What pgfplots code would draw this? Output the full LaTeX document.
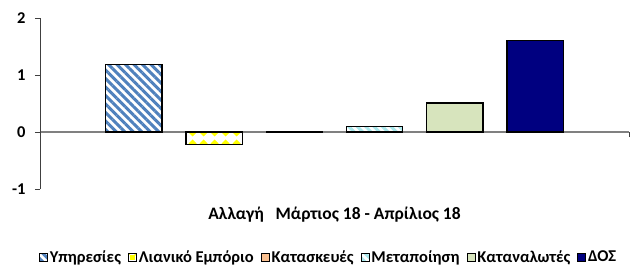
\documentclass[border=0pt]{standalone}
\usepackage{fontspec}
\setmainfont{Carlito}[BoldFont={Carlito Bold}]
\usepackage{pgfplots}
\pgfplotsset{compat=1.18}
\usetikzlibrary{patterns,patterns.meta}
\definecolor{stripeblue}{HTML}{4F81BD}
\definecolor{yel}{HTML}{FFFF00}
\definecolor{peach}{HTML}{FAC090}
\definecolor{lcyan}{HTML}{A8E8EC}
\definecolor{lgreen}{HTML}{D7E4BD}
\definecolor{navyb}{HTML}{000080}
\definecolor{axgrey}{HTML}{808080}
\pgfdeclarepatternformonly{diamonds}{\pgfpoint{-1pt}{-1pt}}{\pgfpoint{12pt}{12pt}}{\pgfpoint{11pt}{11pt}}{%
  \pgfpathmoveto{\pgfpoint{5.5pt}{1.5pt}}%
  \pgfpathlineto{\pgfpoint{9.5pt}{5.5pt}}%
  \pgfpathlineto{\pgfpoint{5.5pt}{9.5pt}}%
  \pgfpathlineto{\pgfpoint{1.5pt}{5.5pt}}%
  \pgfpathclose\pgfusepath{fill}}
\begin{document}
\begin{tikzpicture}
\begin{axis}[
  scale only axis, width=589pt, height=171pt,
  xmin=-0.17, xmax=7.17, ymin=-1, ymax=2,
  axis y line*=left, axis x line*=middle,
  ytick={-1,0,1,2},
  xtick={7.17}, xticklabels={},
  tick align=outside, major tick length=5pt,
  y axis line style={color=black!75, line width=0.7pt},
  x axis line style={color=axgrey, line width=1.2pt},
  y tick style={color=black!75, line width=0.7pt},
  x tick style={color=black!75, line width=0.7pt},
  yticklabel style={font=\fontsize{16.5}{18}\selectfont\bfseries, xshift=-6pt},
  /pgf/number format/assume math mode=true,
  ybar, bar width=0.70, bar shift=0pt,
  every axis plot/.append style={draw=black, line width=1.3pt},
  legend columns=6,
  legend style={draw=none, at={(axis description cs:0.49,-0.398)}, anchor=center,
    font=\fontsize{16.5}{18}\selectfont\bfseries, inner sep=0pt,
    /tikz/every even column/.append style={column sep=5pt}},
  legend image code/.code={\draw[#1, line width=0.8pt] (0pt,-4pt) rectangle (8pt,4pt);},
  clip=false,
]
\addplot[fill=white, postaction={pattern={Lines[angle=-45,distance=6pt,line width=3pt]}, pattern color=stripeblue}] coordinates {(1,1.18)};
\addlegendentry{Υπηρεσίες}
\addplot[fill=white, postaction={pattern=diamonds, pattern color=yel},
  legend image code/.code={\draw[fill=white, draw=black, line width=0.8pt] (0pt,-4pt) rectangle (8pt,4pt); \fill[yel] (2.2pt,-1.8pt) rectangle (5.8pt,1.8pt);}] coordinates {(2,-0.22)};
\addlegendentry{Λιανικό Εμπόριο}
\addplot[fill=peach] coordinates {(3,0.012)};
\addlegendentry{Κατασκευές}
\addplot[fill=white, postaction={pattern={Lines[angle=-45,distance=6pt,line width=3pt]}, pattern color=lcyan}] coordinates {(4,0.10)};
\addlegendentry{Μεταποίηση}
\addplot[fill=lgreen] coordinates {(5,0.51)};
\addlegendentry{Καταναλωτές}
\addplot[fill=navyb] coordinates {(6,1.60)};
\addlegendentry{ΔΟΣ}
\node[font=\fontsize{17.5}{19}\selectfont\bfseries] at ([yshift=-26pt]axis description cs:0.5,0) {Αλλαγή\ \ \ Μάρτιος 18 - Απρίλιος 18};
\coordinate (sw) at (axis description cs:0,0);
\coordinate (ne) at (axis description cs:1,1);
\end{axis}
\pgfresetboundingbox
\path ([shift={(-40pt,-81pt)}]sw) rectangle ([shift={(4pt,18pt)}]ne);
\end{tikzpicture}
\end{document}
